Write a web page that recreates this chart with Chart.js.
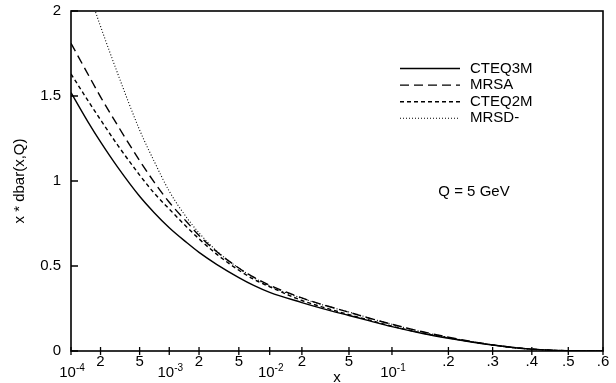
<!DOCTYPE html>
<html>
<head>
<meta charset="utf-8">
<script src="https://cdn.jsdelivr.net/npm/chart.js@4.4.1/dist/chart.umd.min.js"></script>
<style>
  html, body { margin: 0; padding: 0; background: #fff; }
  #wrap { width: 616px; height: 383px; }
</style>
</head>
<body>
<div id="wrap"><canvas id="pdfChart" width="616" height="383"></canvas></div>
<script>
// x grid shared by all four curves
const xValues = [1e-4, 1.5e-4, 2e-4, 3e-4, 5e-4, 7e-4, 1e-3, 1.5e-3, 2e-3, 3e-3, 5e-3, 7e-3,
                 1e-2, 2e-2, 3e-2, 5e-2, 0.07, 0.1, 0.15, 0.2, 0.25, 0.3, 0.35, 0.4, 0.45, 0.5, 0.55, 0.6];

// x * dbar(x,Q) at Q = 5 GeV
const cteq3m = [1.52, 1.345, 1.23, 1.08, 0.91, 0.815, 0.725, 0.638, 0.58, 0.51, 0.432, 0.386,
                0.345, 0.285, 0.251, 0.209, 0.179, 0.143, 0.103, 0.075, 0.053, 0.035, 0.021, 0.011, 0.005, 0.002, 0.0005, 0];
const mrsa   = [1.81, 1.625, 1.495, 1.325, 1.12, 0.995, 0.875, 0.76, 0.68, 0.585, 0.488, 0.434,
                0.387, 0.312, 0.274, 0.228, 0.194, 0.157, 0.113, 0.081, 0.056, 0.036, 0.021, 0.011, 0.005, 0.002, 0.0005, 0];
const cteq2m = [1.63, 1.47, 1.36, 1.21, 1.035, 0.93, 0.835, 0.73, 0.66, 0.57, 0.475, 0.422,
                0.378, 0.297, 0.26, 0.214, 0.183, 0.146, 0.105, 0.077, 0.054, 0.035, 0.021, 0.011, 0.005, 0.002, 0.0005, 0];
const mrsdm  = [2.43, 2.12, 1.91, 1.63, 1.3, 1.118, 0.94, 0.785, 0.695, 0.589, 0.487, 0.432,
                0.382, 0.31, 0.273, 0.229, 0.195, 0.157, 0.112, 0.08, 0.055, 0.035, 0.02, 0.01, 0.004, 0.001, 0, 0];

const seriesNames = ["CTEQ3M", "MRSA", "CTEQ2M", "MRSD-"];

const xTicks = [1e-4, 2e-4, 5e-4, 1e-3, 2e-3, 5e-3, 1e-2, 2e-2, 5e-2, 0.1, 0.2, 0.3, 0.4, 0.5, 0.6];
const xTickLabels = ["10^-4", "2", "5", "10^-3", "2", "5", "10^-2", "2", "5", "10^-1", ".2", ".3", ".4", ".5", ".6"];
const yTicks = [0, 0.5, 1, 1.5, 2];
const yTickLabels = ["0", "0.5", "1", "1.5", "2"];

// the x axis is log10(x) stretched by a linear term
const stretch = 2.75;
const toAxis = v => Math.log10(v) + stretch * v;

const FONT = "'Liberation Sans', Arial, Helvetica, sans-serif";

const pts = arr => xValues.map((v, i) => ({ x: toAxis(v), y: arr[i] }));

const decor = {
  id: "decor",
  afterDatasetsDraw(chart) {
    const { ctx, chartArea: a, scales: { x, y } } = chart;
    ctx.save();
    ctx.strokeStyle = "#000";
    ctx.fillStyle = "#000";

    // frame
    ctx.lineWidth = 1.6;
    ctx.setLineDash([]);
    ctx.strokeRect(a.left, a.top, a.right - a.left, a.bottom - a.top);

    // tick marks
    ctx.lineWidth = 1.3;
    ctx.beginPath();
    x.ticks.forEach(t => {
      const px = x.getPixelForValue(t.value);
      ctx.moveTo(px, a.bottom - 4);
      ctx.lineTo(px, a.bottom + 4);
    });
    y.ticks.forEach(t => {
      const py = y.getPixelForValue(t.value);
      ctx.moveTo(a.left, py);
      ctx.lineTo(a.left + 7, py);
    });
    ctx.stroke();

    // x tick labels, decades with a raised exponent
    x.ticks.forEach((t, i) => {
      const px = x.getPixelForValue(t.value);
      const parts = xTickLabels[i].split("^");
      ctx.textBaseline = "middle";
      if (parts.length === 1) {
        ctx.font = "15px " + FONT;
        ctx.textAlign = "center";
        ctx.fillText(parts[0], px, a.bottom + 11);
      } else {
        ctx.font = "15px " + FONT;
        const w1 = ctx.measureText(parts[0]).width;
        ctx.font = "10px " + FONT;
        const w2 = ctx.measureText(parts[1]).width;
        const x0 = px + 1 - (w1 + w2) / 2;
        ctx.textAlign = "left";
        ctx.font = "15px " + FONT;
        ctx.fillText(parts[0], x0, a.bottom + 22);
        ctx.font = "10px " + FONT;
        ctx.fillText(parts[1], x0 + w1, a.bottom + 17);
      }
    });

    // legend
    chart.data.datasets.forEach((ds, i) => {
      const ly = 68.5 + i * 16.6;
      ctx.lineWidth = ds.borderWidth;
      ctx.setLineDash(ds.borderDash || []);
      ctx.beginPath();
      ctx.moveTo(400, ly);
      ctx.lineTo(460, ly);
      ctx.stroke();
      ctx.setLineDash([]);
      ctx.font = "15px " + FONT;
      ctx.textAlign = "left";
      ctx.textBaseline = "middle";
      ctx.fillText(ds.label, 470, ly);
    });

    ctx.font = "15px " + FONT;
    ctx.textAlign = "center";
    ctx.fillText("Q = 5 GeV", 474, 192);
    ctx.restore();
  }
};

const ctx = document.getElementById("pdfChart").getContext("2d");
const chart = new Chart(ctx, {
  type: "line",
  data: {
    datasets: [
      { label: seriesNames[0], data: pts(cteq3m), borderColor: "#000", borderWidth: 1.4, borderDash: [] },
      { label: seriesNames[1], data: pts(mrsa), borderColor: "#000", borderWidth: 1.4, borderDash: [9, 5] },
      { label: seriesNames[2], data: pts(cteq2m), borderColor: "#000", borderWidth: 1.4, borderDash: [4, 3] },
      { label: seriesNames[3], data: pts(mrsdm), borderColor: "#000", borderWidth: 1.1, borderDash: [1, 2] }
    ]
  },
  options: {
    responsive: false,
    devicePixelRatio: 1,
    animation: false,
    layout: { padding: { top: 11, right: 13, left: 0, bottom: 0 } },
    elements: {
      point: { radius: 0 },
      line: { cubicInterpolationMode: "monotone", fill: false }
    },
    plugins: { legend: { display: false }, tooltip: { enabled: false } },
    scales: {
      x: {
        type: "linear",
        min: toAxis(xTicks[0]),
        max: toAxis(xTicks[xTicks.length - 1]),
        afterBuildTicks: s => { s.ticks = xTicks.map(v => ({ value: v === 0 ? 0 : toAxis(v) })); },
        afterFit: s => { s.height = 32; s.paddingLeft = 0; s.paddingRight = 0; },
        grid: { display: false, drawTicks: false },
        border: { display: false },
        ticks: { display: false },
        title: { display: true, text: "x", color: "#000", font: { family: FONT, size: 15, lineHeight: 1 }, padding: { top: 0, bottom: -2 } }
      },
      y: {
        min: 0,
        max: 2,
        afterBuildTicks: s => { s.ticks = yTicks.map(v => ({ value: v })); },
        afterFit: s => { s.width = 71; s.paddingTop = 0; s.paddingBottom = 0; },
        grid: { display: false, drawTicks: false },
        border: { display: false },
        ticks: {
          color: "#000",
          padding: 10,
          font: { family: FONT, size: 15 },
          callback: (v, i) => yTickLabels[i]
        },
        title: { display: true, text: "x * dbar(x,Q)", color: "#000", font: { family: FONT, size: 15 }, padding: { top: 11 } }
      }
    }
  },
  plugins: [decor]
});
</script>
</body>
</html>
